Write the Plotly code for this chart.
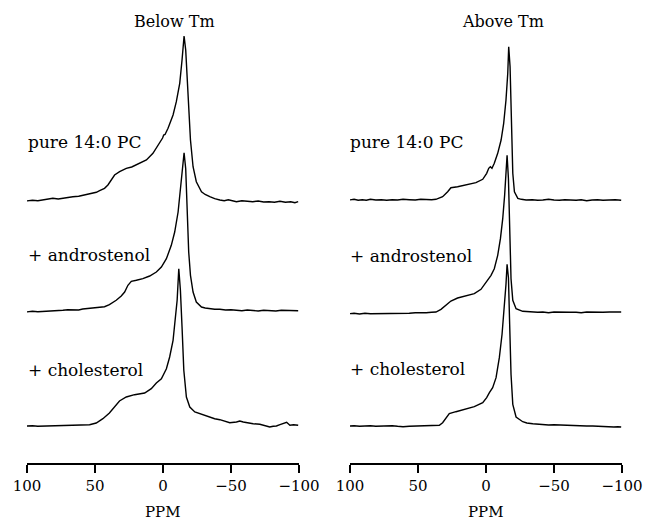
import plotly.graph_objects as go

# ---------------- data (ppm, intensity in arbitrary units) ----------------
PANEL_TITLES = ["Below Tm", "Above Tm"]
SAMPLE_LABELS = ["pure 14:0 PC", "+ androstenol", "+ cholesterol"]
X_TICKS = [100, 50, 0, -50, -100]
X_TITLE = "PPM"

# Below Tm
BELOW_PURE_PPM = [100.6, 96, 92, 88, 84, 81, 77, 73, 70, 66.3, 62, 59, 56.4, 52, 49, 46.6, 43, 40.5,
                  35.6, 31.9, 27.0, 23, 19.6, 16, 12.2, 7.4, 2.4, 0.3, -0.5, -1.5, -3.7, -7.4, -9.8,
                  -12.3, -14.0, -15.5, -16.7, -18.4, -20.2, -22.1, -24.5, -28.3, -31, -34.4, -38,
                  -41.8, -45, -48, -51, -54, -58, -62, -66, -70, -74, -78, -82, -86, -90, -94, -97, -99.4]
BELOW_PURE_INT = [0, 0.7, 0.3, 1.3, 1.7, 2.7, 2.0, 3.0, 3.3, 4.3, 4.7, 5.7, 6.0, 7.3, 8.7, 10.3, 12.7, 16,
                  26, 29.3, 32.7, 34, 36, 38.5, 41, 47.7, 57.7, 63, 66, 66.5, 72.7, 86, 99.3,
                  117.7, 141, 165, 151, 104.3, 61, 34.3, 19.3, 9.3, 6.5, 4.3, 2.3,
                  1.0, 0.3, 1.2, 0.0, -0.7, 0.3, -0.3, -0.7, 0.0, -1.0, -0.7, -1.3, -0.3, -1.3, -0.7, -1.7, -0.7]

BELOW_ANDRO_PPM = [100.6, 96, 92, 85.9, 81, 77, 73.6, 70, 66.3, 62, 59, 56.4, 52, 49, 46.6, 43, 39.4,
                   34.4, 30.7, 28.2, 25.8, 23.3, 19.6, 14.8, 9.8, 4.9, 1.2, -2.5, -6.1, -8.6, -11.1,
                   -13.0, -14.2, -15.5, -16.7, -17.7, -18.9, -20.2, -22.1, -24.5, -28.3, -31, -34.4,
                   -38, -41.8, -46, -50, -54, -58, -62, -66.3, -70, -74, -78.5, -83, -87, -90.9, -95, -99.4]
BELOW_ANDRO_INT = [-1.0, -0.3, -0.7, -0.3, 0.3, 0.0, 0.7, 1.3, 1.3, 1.0, 2.0, 2.3, 2.7, 3.3, 3.3, 4.3, 6.3,
                   10.7, 15, 19, 25.7, 29.7, 30.7, 32.3, 35, 39, 44, 52.3, 65.7, 79, 99,
                   122.3, 139, 158.3, 142.3, 99, 59, 35.7, 19, 9, 4, 3.0, 2.3,
                   1.7, 1.7, 1.0, 1.3, 1.0, 0.3, 1.0, 0.7, 0.0, 0.7, 0.3, 0.0, 0.7, 0.7, 0.0, 0.3]

BELOW_CHOL_PPM = [100.6, 96, 92, 85.9, 81, 76, 71.2, 66, 62, 58, 54, 49.1, 44.2, 39.4, 34.4, 32, 27,
                  20.9, 13.5, 8.6, 4.9, 1.2, -2.5, -4.9, -7.4, -9.1, -10.4, -11.6, -12.8, -14.0,
                  -15.3, -17.2, -19.7, -23.4, -28.3, -31, -34.4, -38, -41.8, -45, -49.1, -54, -56.5,
                  -59, -61.4, -66.3, -71.2, -75, -78.5, -81, -83.4, -86, -88.3, -90.9, -93.3, -96, -99.4]
BELOW_CHOL_INT = [0, 0.3, -0.3, 0, 0.3, 0.0, 0.7, 0.3, 0.7, 1.0, 1.3, 3.0, 7.3, 13, 21.7, 25, 29,
                  31.3, 33, 37.3, 43, 47.3, 57.3, 69, 85.7, 105.7, 125.7, 157.3, 135.7, 99,
                  55.7, 29, 19, 14, 11.7, 10.3, 9, 7.3, 6.3, 5.0, 3.3, 4.0, 5.0,
                  4.0, 3.3, 2.3, 1.7, 0.3, -1.0, -0.3, 0.0, 1.3, 2.3, 3.7, 0.7, 1.3, 0.7]

# Above Tm
ABOVE_PURE_PPM = [100.6, 97, 94, 91, 88, 85, 81, 77, 73, 69, 65, 61, 56.4, 52, 48, 44, 40, 36.8,
                  31.9, 28.2, 25.8, 20.9, 14.8, 7.4, 2.4, -0.5, -2.0, -3.2, -4.4, -6.1, -8.6, -11.1,
                  -13.0, -14.7, -16.0, -16.7, -17.7, -18.7, -19.7, -20.9, -23.4, -26, -29.5, -34, -38,
                  -41.8, -46, -50, -54, -58, -62, -66.3, -70, -74, -78, -82, -86, -90.9, -95, -99.4]
ABOVE_PURE_INT = [0, 0.7, -0.3, 0.3, -0.3, 0.7, 0, 0.3, -0.3, 0.3, 0, 0.7, 0.3, 0, 0.7, 0.3, 0.3, 0.7,
                  3.3, 8.3, 12.3, 13.3, 15, 17.3, 20.7, 26.7, 31.7, 33.3, 31.7, 36.7, 46.7, 60,
                  76.7, 100, 126.7, 153.3, 133.3, 76.7, 26.7, 8.3, 1.7, 0.7, 0, 0.3, -0.3,
                  0, 0.7, 0, -0.3, 0.3, 0, -0.3, 0.3, -0.7, 0, 0.3, -0.3, 0, 0.3, -0.3]

ABOVE_ANDRO_PPM = [100.6, 97, 93, 89, 85, 81, 77, 73, 69, 65, 61, 56.4, 52, 48, 44, 40, 36.8,
                   33.1, 29.4, 25.8, 20.9, 14.8, 8.6, 3.7, 0.0, -1.7, -3.7, -6.1, -8.6, -10.6, -12.3,
                   -13.7, -14.7, -15.5, -16.5, -17.4, -18.4, -19.7, -22.1, -27, -31, -35, -38,
                   -41.8, -46, -50, -54, -58, -62, -66.3, -70, -74, -78, -82, -86, -90.9, -95, -99.4]
ABOVE_ANDRO_INT = [-0.7, -0.3, -1.0, -0.3, -0.7, -0.7, -0.3, -0.7, 0, -0.3, -0.3, -0.3, 0.3, 0, 0.3, 0.7, 1.0,
                   3.7, 8.3, 12, 15, 17, 19.3, 23.7, 31, 35, 37.7, 44.3, 57.7, 74.3, 94.3,
                   117.7, 141, 157.7, 134.3, 84.3, 34.3, 12.7, 4.3, 1.7, 1.3, 1.0, 0.7,
                   1.0, 0.3, 1.0, 0.7, 0.3, 0.7, 0.7, 0.3, 1.0, 0.7, 0.3, 0.7, 1.0, 0.7, 1.0]

ABOVE_CHOL_PPM = [100.6, 97, 93, 89, 85, 81, 77, 73, 69, 65, 61, 56.4, 52, 48, 44, 40, 37, 34.3,
                  31.9, 29.4, 27, 22.1, 14.8, 8.6, 2.4, -0.5, -2.5, -4.9, -7.4, -9.8, -11.8, -13.5,
                  -14.7, -15.5, -16.5, -17.4, -18.4, -19.7, -22.1, -27, -30, -34.4, -38, -42, -46,
                  -50, -54, -58, -62, -66, -70, -74, -78.5, -82, -86, -90, -94, -97, -99.4]
ABOVE_CHOL_INT = [0, 0.3, -0.3, 0, 0.3, -0.3, 0, -0.3, 0.3, -0.3, -0.7, -0.3, 0, -0.3, 0, 0.3, 0.3, 0.7,
                  3.3, 8.3, 12.3, 14.3, 16.7, 19.3, 23.3, 28.3, 33.3, 38.3, 48.3, 68.3, 91.7, 118.3,
                  141.7, 161.7, 148.3, 101.7, 51.7, 21.7, 9, 4.3, 3.0, 2.3, 1.7, 1.3, 1.0,
                  1.3, 1.0, 0.7, 0.3, 0.7, 0.3, 0, 0.0, -0.3, -0.7, -0.3, -1.0, -0.7, -1.0]

# stacking offsets (vertical spacing between spectra, same units as intensity)
BELOW_OFFSETS = [262, 152, 37]
ABOVE_OFFSETS = [263, 150, 37]

# ---------------- figure ----------------
W, H = 646, 523
BOTTOM = 60
PLOT_H = H - BOTTOM  # 463 px -> 1 unit per px

FONT = "DejaVu Serif"

fig = go.Figure()

below = [(BELOW_PURE_PPM, BELOW_PURE_INT), (BELOW_ANDRO_PPM, BELOW_ANDRO_INT), (BELOW_CHOL_PPM, BELOW_CHOL_INT)]
above = [(ABOVE_PURE_PPM, ABOVE_PURE_INT), (ABOVE_ANDRO_PPM, ABOVE_ANDRO_INT), (ABOVE_CHOL_PPM, ABOVE_CHOL_INT)]

for (ppm, inten), off in zip(below, BELOW_OFFSETS):
    fig.add_trace(go.Scatter(x=ppm, y=[v + off for v in inten], mode="lines",
                             line=dict(color="black", width=1.4), xaxis="x", yaxis="y",
                             showlegend=False, hoverinfo="skip"))
for (ppm, inten), off in zip(above, ABOVE_OFFSETS):
    fig.add_trace(go.Scatter(x=ppm, y=[v + off for v in inten], mode="lines",
                             line=dict(color="black", width=1.4), xaxis="x2", yaxis="y",
                             showlegend=False, hoverinfo="skip"))

axis_common = dict(range=[100, -100], tickmode="array", tickvals=X_TICKS,
                   ticks="outside", ticklen=8, tickwidth=1.5, tickcolor="black",
                   showline=True, linecolor="black", linewidth=1.6, showgrid=False,
                   zeroline=False, automargin=False,
                   tickfont=dict(family=FONT, size=15, color="black"),
                   anchor="y")

fig.update_layout(
    width=W, height=H,
    margin=dict(l=0, r=0, t=0, b=BOTTOM, pad=0, autoexpand=False),
    paper_bgcolor="white", plot_bgcolor="white",
    xaxis=dict(domain=[27 / W, 299 / W], **axis_common),
    xaxis2=dict(domain=[350 / W, 622 / W], **axis_common),
    yaxis=dict(range=[0, PLOT_H], visible=False, fixedrange=True, automargin=False),
    showlegend=False,
)

ann = []
# panel titles
ann.append(dict(text=PANEL_TITLES[0], x=174 / W, xref="paper", y=PLOT_H - 21, yref="y",
                showarrow=False, xanchor="center", yanchor="middle",
                font=dict(family=FONT, size=16, color="black")))
ann.append(dict(text=PANEL_TITLES[1], x=503 / W, xref="paper", y=PLOT_H - 21, yref="y",
                showarrow=False, xanchor="center", yanchor="middle",
                font=dict(family=FONT, size=16, color="black")))
# sample labels
below_label_y = [142, 255, 370]
above_label_y = [142, 256, 369]
for lab, yy in zip(SAMPLE_LABELS, below_label_y):
    ann.append(dict(text=lab, x=26 / W, xref="paper", y=PLOT_H - yy, yref="y", showarrow=False,
                    xanchor="left", yanchor="middle", font=dict(family=FONT, size=17, color="black")))
for lab, yy in zip(SAMPLE_LABELS, above_label_y):
    ann.append(dict(text=lab, x=348 / W, xref="paper", y=PLOT_H - yy, yref="y", showarrow=False,
                    xanchor="left", yanchor="middle", font=dict(family=FONT, size=17, color="black")))
# axis titles (below the tick labels)
for cx in [163 / W, 486 / W]:
    ann.append(dict(text=X_TITLE, x=cx, xref="paper", y=(PLOT_H - 512) / PLOT_H, yref="paper",
                    showarrow=False, xanchor="center", yanchor="middle",
                    font=dict(family=FONT, size=15, color="black")))

fig.update_layout(annotations=ann)
fig.write_html("out.html", config={"displayModeBar": False},
               post_script="document.body.style.margin='0';")
